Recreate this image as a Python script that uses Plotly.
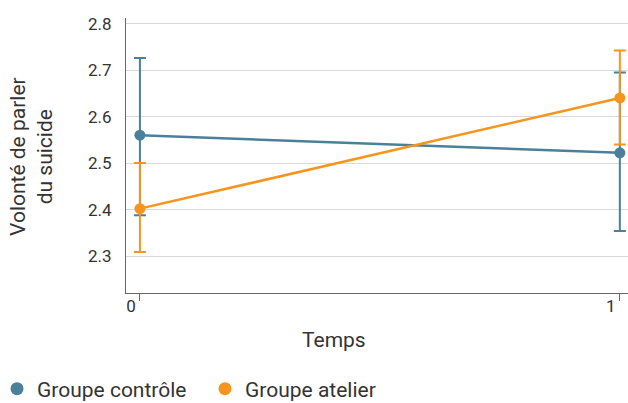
import plotly.graph_objects as go

temps = [0, 1]
series_names = ["Groupe contrôle", "Groupe atelier"]
controle_mean = [2.56, 2.522]
controle_err_plus = [0.166, 0.173]
controle_err_minus = [0.172, 0.168]
atelier_mean = [2.402, 2.640]
atelier_err_plus = [0.098, 0.102]
atelier_err_minus = [0.093, 0.100]
y_ticks = [2.3, 2.4, 2.5, 2.6, 2.7, 2.8]
x_ticks = [0, 1]

BLUE = "#4A8099"
ORANGE = "#F7941D"
FONT = "Roboto"
TXT = "#333333"

W, H = 628, 403
L, R, T, B = 126, 0, 18, 110
PW, PH = W - L - R, H - T - B

fig = go.Figure()
for name, mean, ep, em, col in [
    (series_names[0], controle_mean, controle_err_plus, controle_err_minus, BLUE),
    (series_names[1], atelier_mean, atelier_err_plus, atelier_err_minus, ORANGE),
]:
    fig.add_trace(go.Scatter(
        x=temps, y=mean, mode="lines+markers", showlegend=False,
        line=dict(color=col, width=2.5), marker=dict(color=col, size=11),
        error_y=dict(type="data", symmetric=False, array=ep, arrayminus=em,
                     color=col, thickness=2, width=6),
    ))
for name, col in [(series_names[0], BLUE), (series_names[1], ORANGE)]:
    fig.add_trace(go.Scatter(x=[None], y=[None], mode="markers", name=name,
                             marker=dict(color=col, size=13)))

fig.update_layout(
    width=W, height=H,
    margin=dict(l=L, r=R, t=T, b=B, autoexpand=False),
    paper_bgcolor="white", plot_bgcolor="white",
    font=dict(family=FONT, color=TXT, size=17),
    legend=dict(orientation="h", x=(-3 - L) / PW, xanchor="left",
                y=-(389 - (T + PH)) / PH, yanchor="middle",
                font=dict(size=21, color=TXT), itemwidth=30, entrywidth=163,
                tracegroupgap=0),
)
fig.update_xaxes(
    range=[-0.029, 1.017], tickvals=x_ticks, ticktext=[str(v) for v in x_ticks],
    showgrid=False, zeroline=False, showline=True, linecolor="#666666", linewidth=1,
    ticks="outside", ticklen=7, tickcolor="#666666", tickfont=dict(size=17, color=TXT),
    ticklabelshift=-9, ticklabelstandoff=-9, automargin=False,
)
fig.update_yaxes(
    range=[2.2206, 2.812], tickvals=y_ticks, ticktext=[f"{v:.1f}" for v in y_ticks],
    showgrid=True, gridcolor="#D9D9D9", gridwidth=1, zeroline=False,
    showline=True, linecolor="#666666", linewidth=1, ticks="",
    ticklabelstandoff=10, tickfont=dict(size=17, color=TXT), automargin=False,
)
fig.add_annotation(text="Volonté de parler<br>du suicide", xref="paper", yref="paper",
                   x=(32 - L) / PW, y=((T + PH) - 157) / PH, textangle=-90,
                   showarrow=False, font=dict(size=21, color=TXT),
                   xanchor="center", yanchor="middle")
fig.add_annotation(text="Temps", xref="paper", yref="paper", x=(334 - L) / PW,
                   y=-(340 - (T + PH)) / PH,
                   showarrow=False, font=dict(size=21, color=TXT), xanchor="center", yanchor="middle")

fig.write_html("out.html")
